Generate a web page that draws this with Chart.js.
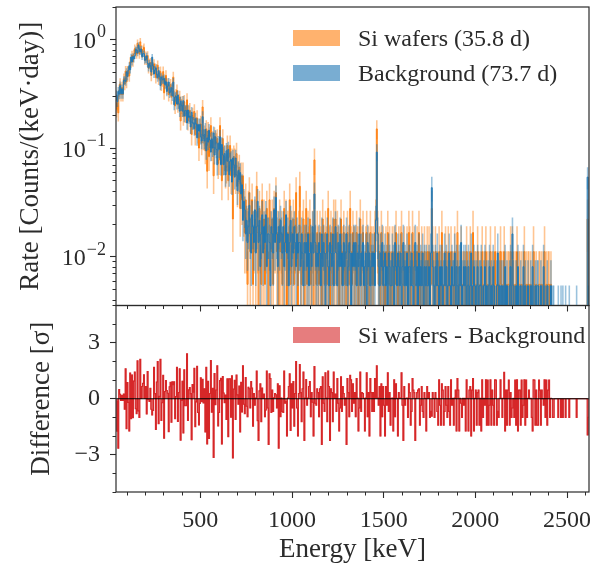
<!DOCTYPE html>
<html>
<head>
<meta charset="utf-8">
<script src="https://cdn.jsdelivr.net/npm/chart.js@4.4.0/dist/chart.umd.min.js"></script>
<style>
  html, body { margin: 0; padding: 0; background: #fff; }
  #wrap { position: relative; width: 590px; height: 569px; }
  #wrap canvas { position: absolute; left: 0; top: 0; }
</style>
</head>
<body>
<div id="wrap">
  <canvas id="diffChart" width="590" height="569"></canvas>
  <canvas id="rateChart" width="590" height="569"></canvas>
</div>
<script>
const FONT = "'Liberation Serif', 'Times New Roman', serif";
const INK = "#2b2b2b";

// binning (keV) and live times (days)
const binStart = 40;
const binWidth = 5;
const siDays = 35.8;
const bgDays = 73.7;
const siLabel = "Si wafers (35.8 d)";
const bgLabel = "Background (73.7 d)";
const diffLabel = "Si wafers - Background";

// counts per 5 keV bin, 40 - 2620 keV (one row = 100 keV)
const siCounts = [
  41, 47, 38, 61, 70, 56, 65, 56, 78, 70, 92, 73, 92, 91, 83, 112, 110, 129, 112, 132,
  148, 138, 132, 166, 150, 132, 171, 147, 134, 145, 152, 116, 127, 116, 128, 98, 107, 110, 84, 112,
  95, 107, 98, 80, 96, 104, 78, 84, 91, 69, 75, 91, 58, 73, 84, 64, 70, 56, 64, 69,
  53, 63, 81, 53, 44, 55, 61, 45, 49, 53, 32, 44, 47, 35, 48, 37, 37, 50, 32, 38,
  40, 30, 24, 36, 33, 39, 24, 29, 34, 25, 18, 28, 30, 20, 43, 22, 24, 17, 27, 11,
  26, 15, 23, 29, 18, 21, 10, 23, 21, 20, 22, 13, 14, 29, 18, 9, 22, 14, 15, 11,
  12, 19, 9, 15, 19, 10, 14, 4, 15, 14, 10, 16, 8, 10, 12, 5, 10, 6, 10, 5,
  3, 6, 3, 1, 5, 7, 2, 4, 6, 1, 3, 4, 2, 8, 3, 0, 5, 3, 1, 6,
  2, 4, 1, 3, 5, 2, 0, 6, 3, 2, 4, 1, 5, 3, 7, 2, 3, 0, 4, 2,
  3, 1, 2, 5, 2, 4, 0, 3, 2, 6, 1, 3, 2, 4, 1, 3, 7, 2, 0, 3,
  8, 2, 1, 3, 4, 0, 2, 5, 1, 3, 2, 4, 1, 2, 3, 0, 14, 2, 1, 3,
  2, 1, 3, 2, 0, 4, 2, 1, 3, 2, 1, 5, 2, 0, 3, 2, 1, 4, 2, 4,
  1, 3, 2, 0, 2, 4, 1, 2, 3, 1, 2, 0, 3, 2, 1, 5, 2, 1, 3, 2,
  2, 1, 3, 2, 0, 2, 4, 1, 2, 3, 1, 0, 2, 3, 1, 2, 0, 3, 2, 1,
  2, 1, 3, 4, 27, 3, 1, 2, 0, 3, 1, 2, 1, 0, 2, 1, 3, 1, 2, 0,
  1, 2, 0, 2, 1, 3, 1, 0, 2, 1, 2, 3, 1, 0, 2, 1, 1, 2, 0, 3,
  2, 0, 1, 3, 1, 2, 0, 1, 2, 1, 3, 0, 1, 2, 1, 0, 2, 1, 0, 2,
  1, 2, 0, 1, 5, 2, 1, 0, 2, 1, 1, 0, 2, 1, 0, 3, 1, 0, 1, 2,
  1, 0, 2, 1, 0, 2, 1, 1, 0, 2, 1, 0, 3, 1, 0, 1, 2, 0, 1, 1,
  1, 0, 2, 1, 0, 1, 2, 0, 1, 3, 0, 1, 1, 0, 2, 1, 0, 1, 0, 2,
  0, 1, 1, 2, 0, 1, 0, 1, 2, 0, 1, 1, 0, 2, 1, 0, 1, 0, 1, 2,
  1, 0, 1, 2, 0, 1, 0, 1, 1, 0, 2, 0, 2, 1, 0, 1, 0, 2, 0, 1,
  1, 0, 1, 0, 1, 2, 0, 1, 0, 1, 1, 0, 1, 0, 0, 2, 1, 0, 1, 0,
  0, 1, 1, 0, 1, 0, 1, 2, 0, 1, 0, 1, 1, 0, 1, 0, 0, 0, 0, 0,
  0, 0, 0, 0, 0, 0, 0, 0, 0, 0, 0, 0, 0, 0, 0, 0, 0, 0, 0, 0,
  0, 0, 0, 0, 0, 0, 0, 0, 0, 0, 0, 0, 0, 0, 4, 0
];

const bgCounts = [
  114, 99, 123, 116, 139, 117, 130, 117, 155, 156, 152, 186, 169, 192, 212, 195, 255, 230, 258, 245,
  262, 300, 295, 278, 329, 301, 285, 302, 257, 274, 274, 238, 243, 261, 223, 203, 224, 212, 186, 254,
  211, 178, 195, 203, 176, 165, 191, 170, 139, 167, 159, 158, 162, 142, 151, 123, 138, 150, 119, 124,
  133, 112, 150, 93, 109, 111, 94, 114, 95, 81, 100, 92, 81, 101, 73, 82, 82, 63, 83, 71,
  73, 58, 79, 63, 63, 56, 69, 62, 46, 61, 53, 61, 47, 43, 72, 48, 43, 55, 35, 46,
  42, 54, 44, 34, 45, 37, 51, 32, 47, 36, 26, 41, 36, 47, 26, 40, 32, 26, 33, 21,
  35, 28, 36, 21, 28, 29, 18, 30, 26, 20, 30, 21, 15, 23, 19, 22, 14, 17, 8, 12,
  10, 6, 8, 5, 7, 11, 6, 4, 9, 7, 5, 10, 4, 7, 12, 5, 8, 3, 6, 9,
  4, 7, 5, 9, 3, 6, 6, 5, 2, 7, 6, 4, 10, 5, 13, 6, 3, 7, 5, 8,
  6, 4, 7, 3, 5, 9, 4, 6, 2, 5, 8, 3, 6, 4, 7, 5, 3, 6, 4, 5,
  5, 3, 6, 4, 2, 5, 4, 5, 3, 6, 2, 4, 5, 3, 7, 4, 14, 5, 3, 4,
  3, 5, 4, 2, 6, 3, 5, 4, 1, 4, 6, 3, 2, 5, 4, 3, 6, 2, 4, 7,
  4, 2, 5, 3, 6, 3, 4, 2, 5, 3, 4, 6, 2, 3, 5, 4, 1, 4, 3, 5,
  3, 5, 2, 4, 3, 6, 2, 4, 3, 5, 2, 3, 4, 1, 5, 3, 4, 2, 3, 4,
  3, 4, 2, 8, 34, 6, 3, 2, 4, 3, 5, 2, 3, 4, 2, 3, 1, 4, 3, 2,
  2, 4, 3, 1, 5, 3, 2, 4, 3, 2, 4, 1, 3, 5, 2, 3, 2, 4, 1, 3,
  3, 2, 4, 2, 1, 3, 5, 2, 3, 1, 4, 2, 3, 2, 4, 1, 3, 2, 3, 2,
  2, 3, 1, 4, 16, 3, 2, 1, 3, 2, 4, 2, 1, 3, 2, 3, 1, 2, 4, 2,
  3, 1, 2, 4, 2, 1, 3, 2, 2, 4, 1, 3, 2, 1, 3, 2, 5, 1, 2, 3,
  2, 3, 1, 2, 3, 1, 2, 4, 1, 2, 3, 2, 1, 2, 3, 1, 2, 2, 3, 1,
  1, 2, 3, 1, 2, 0, 2, 3, 1, 2, 1, 3, 2, 1, 0, 2, 4, 1, 2, 1,
  2, 1, 2, 0, 3, 1, 2, 1, 0, 2, 3, 1, 6, 2, 1, 0, 2, 1, 3, 1,
  1, 2, 0, 1, 3, 1, 2, 0, 1, 2, 1, 0, 2, 1, 3, 1, 0, 2, 1, 2,
  2, 0, 1, 2, 1, 0, 3, 1, 1, 0, 2, 1, 0, 1, 2, 0, 1, 1, 0, 0,
  0, 0, 1, 0, 0, 1, 0, 1, 0, 0, 1, 0, 0, 0, 1, 0, 0, 0, 0, 0,
  0, 0, 1, 0, 0, 0, 0, 0, 0, 0, 0, 0, 0, 0, 20, 1
];

// ticks
const energyMajor = [500, 1000, 1500, 2000, 2500];
const energyMinor = [100, 200, 300, 400, 600, 700, 800, 900, 1100, 1200, 1300, 1400,
  1600, 1700, 1800, 1900, 2100, 2200, 2300, 2400, 2600];
const rateMajor = [0.01, 0.1, 1];
const rateMajorExp = ["\u22122", "\u22121", "0"];
const rateMinor = [0.004, 0.005, 0.006, 0.007, 0.008, 0.009, 0.02, 0.03, 0.04, 0.05,
  0.06, 0.07, 0.08, 0.09, 0.2, 0.3, 0.4, 0.5, 0.6, 0.7, 0.8, 0.9, 2];
const diffMajor = [-3, 0, 3];
const diffMinor = [-5, -4, -2, -1, 1, 2, 4, 5];

Chart.defaults.font.family = FONT;
Chart.defaults.color = INK;

const FLOOR = 1e-5;
const centers = siCounts.map((_, i) => binStart + binWidth * (i + 0.5));
const toRate = (n, days) => n / (days * binWidth);
const toErr = (n, days) => Math.sqrt(n) / (days * binWidth);

function bandData(counts, days) {
  return counts.map((n, i) => {
    if (n === 0) return { x: centers[i], y: null };
    const r = toRate(n, days), e = toErr(n, days);
    return { x: centers[i], y: [Math.max(r - e, FLOOR), r + e] };
  });
}
function stepData(counts, days) {
  return counts.map((n, i) => ({ x: centers[i], y: n > 0 ? toRate(n, days) : FLOOR }));
}

// significance of the difference per bin
const diffValues = siCounts.map((s, i) => {
  const b = bgCounts[i];
  if (s === 0 && b === 0) return null;
  const es = toErr(s, siDays), eb = toErr(b, bgDays);
  return (toRate(s, siDays) - toRate(b, bgDays)) / Math.sqrt(es * es + eb * eb);
});

const setTicks = (values) => (scale) => { scale.ticks = values.map(v => ({ value: v })); };
const fixWidth = (w) => (scale) => {
  scale.width = w;
  scale.paddingTop = 0;
  scale.paddingBottom = 0;
};
const fixHeight = (h) => (scale) => {
  scale.height = h;
  scale.paddingLeft = 0;
  scale.paddingRight = 0;
};

function tickAxis(extra) {
  return Object.assign({
    grid: { drawOnChartArea: false, color: INK, tickLength: 6, tickWidth: 1.1, offset: false },
    border: { display: false },
    ticks: { display: false }
  }, extra);
}

const framePlugin = {
  id: 'frame',
  afterDatasetsDraw(chart) {
    const { ctx, chartArea: a } = chart;
    ctx.save();
    ctx.strokeStyle = INK;
    ctx.lineWidth = 1.2;
    ctx.strokeRect(a.left, a.top, a.right - a.left, a.bottom - a.top);
    ctx.restore();
  }
};

const boxLegend = {
  id: 'boxLegend',
  afterDraw(chart, args, opts) {
    const ctx = chart.ctx;
    const items = chart.data.datasets.filter(d => d.legendColor);
    ctx.save();
    ctx.font = "24px " + FONT;
    ctx.textBaseline = 'middle';
    items.forEach((d, i) => {
      const y = opts.top + i * opts.gap;
      ctx.fillStyle = d.legendColor;
      ctx.fillRect(opts.left, y, 47, 16);
      ctx.fillStyle = INK;
      ctx.fillText(d.label, opts.textX, y + 10);
    });
    ctx.restore();
  }
};

// 10^n labels for the log axis
const powerLabels = {
  id: 'powerLabels',
  afterDraw(chart) {
    const scale = chart.scales.y;
    const ctx = chart.ctx;
    ctx.save();
    ctx.fillStyle = INK;
    ctx.textBaseline = 'middle';
    rateMajor.forEach((v, i) => {
      const y = scale.getPixelForValue(v);
      const exp = rateMajorExp[i];
      ctx.font = "18px " + FONT;
      const we = ctx.measureText(exp).width;
      ctx.font = "24px " + FONT;
      const wb = ctx.measureText("10").width;
      const right = 106;
      ctx.fillText("10", right - we - wb - 1, y + 2);
      ctx.font = "18px " + FONT;
      ctx.fillText(exp, right - we, y - 7);
    });
    ctx.restore();
  }
};

new Chart(document.getElementById('rateChart'), {
  type: 'bar',
  data: {
    datasets: [
      { type: 'bar', label: siLabel, data: bandData(siCounts, siDays),
        backgroundColor: 'rgba(255,127,14,0.45)', legendColor: 'rgba(255,127,14,0.6)',
        grouped: false, barPercentage: 1, categoryPercentage: 1, order: 3 },
      { type: 'line', data: stepData(siCounts, siDays), borderColor: '#ff7f0e',
        borderWidth: 1, pointRadius: 0, stepped: 'middle', order: 2 },
      { type: 'bar', label: bgLabel, data: bandData(bgCounts, bgDays),
        backgroundColor: 'rgba(31,119,180,0.45)', legendColor: 'rgba(31,119,180,0.6)',
        grouped: false, barPercentage: 1, categoryPercentage: 1, order: 1 },
      { type: 'line', data: stepData(bgCounts, bgDays), borderColor: '#1f77b4',
        borderWidth: 1, pointRadius: 0, stepped: 'middle', order: 0 }
    ]
  },
  options: {
    responsive: false,
    animation: false,
    events: [],
    layout: { padding: { left: 0, top: 7, right: 1, bottom: 569 - 305.5 - 10 } },
    plugins: {
      legend: { display: false },
      tooltip: { enabled: false },
      boxLegend: { left: 293, top: 30, gap: 35, textX: 358 }
    },
    scales: {
      x: tickAxis({ type: 'linear', min: 40, max: 2620, offset: false,
        afterBuildTicks: setTicks(energyMajor), afterFit: fixHeight(10) }),
      xMinor: tickAxis({ type: 'linear', axis: 'x', position: 'bottom', min: 40, max: 2620,
        offset: false, weight: -1,
        grid: { drawOnChartArea: false, color: INK, tickLength: 3.5, tickWidth: 1, offset: false },
        afterBuildTicks: setTicks(energyMinor), afterFit: fixHeight(0) }),
      y: tickAxis({ type: 'logarithmic', min: 0.00357, max: 2,
        afterBuildTicks: setTicks(rateMajor), afterFit: fixWidth(116),
        title: { display: true, text: 'Rate [Counts/(keV\u00b7day)]', color: INK,
          font: { size: 27 }, padding: { top: 14.8, bottom: 0 } } }),
      yMinor: tickAxis({ type: 'logarithmic', axis: 'y', position: 'left', min: 0.00357, max: 2,
        weight: -1,
        grid: { drawOnChartArea: false, color: INK, tickLength: 3.5, tickWidth: 1 },
        afterBuildTicks: setTicks(rateMinor), afterFit: fixWidth(0) })
    }
  },
  plugins: [framePlugin, boxLegend, powerLabels]
});

new Chart(document.getElementById('diffChart'), {
  type: 'bar',
  data: {
    datasets: [
      { type: 'line', data: [{ x: 40, y: 0 }, { x: 2620, y: 0 }], borderColor: '#000',
        borderWidth: 1.2, pointRadius: 0, order: 0 },
      { type: 'line', data: diffValues.map((d, i) => ({ x: centers[i], y: d === null ? 0 : d })),
        borderColor: '#d62728', borderWidth: 1.1, pointRadius: 0, stepped: 'middle', order: 1 },
      { type: 'bar', label: diffLabel, data: diffValues.map((d, i) => ({ x: centers[i], y: d })),
        backgroundColor: 'rgba(214,39,40,0.6)', legendColor: 'rgba(214,39,40,0.6)',
        grouped: false, barPercentage: 1, categoryPercentage: 1, order: 2 }
    ]
  },
  options: {
    responsive: false,
    animation: false,
    events: [],
    layout: { padding: { left: 0, top: 305.5, right: 1, bottom: 0 } },
    plugins: {
      legend: { display: false },
      tooltip: { enabled: false },
      boxLegend: { left: 293, top: 327, gap: 35, textX: 358 }
    },
    scales: {
      x: tickAxis({ type: 'linear', min: 40, max: 2620, offset: false,
        ticks: { display: true, font: { size: 24 }, padding: 8.6, maxRotation: 0,
          autoSkip: false, color: INK, callback: v => String(v) },
        afterBuildTicks: setTicks(energyMajor), afterFit: fixHeight(77),
        title: { display: true, text: 'Energy [keV]', color: INK, font: { size: 27 },
          padding: { top: 0, bottom: 2.8 } } }),
      xMinor: tickAxis({ type: 'linear', axis: 'x', position: 'bottom', min: 40, max: 2620,
        offset: false, weight: -1,
        grid: { drawOnChartArea: false, color: INK, tickLength: 3.5, tickWidth: 1, offset: false },
        afterBuildTicks: setTicks(energyMinor), afterFit: fixHeight(0) }),
      y: tickAxis({ type: 'linear', min: -5, max: 5,
        ticks: { display: true, font: { size: 24 }, padding: 10, color: INK,
          callback: v => (v < 0 ? '\u2212' + Math.abs(v) : String(v)) },
        afterBuildTicks: setTicks(diffMajor), afterFit: fixWidth(116),
        title: { display: true, text: 'Difference [\u03c3]', color: INK, font: { size: 27 },
          padding: { top: 25.8, bottom: 0 } } }),
      yMinor: tickAxis({ type: 'linear', axis: 'y', position: 'left', min: -5, max: 5, weight: -1,
        grid: { drawOnChartArea: false, color: INK, tickLength: 3.5, tickWidth: 1 },
        afterBuildTicks: setTicks(diffMinor), afterFit: fixWidth(0) })
    }
  },
  plugins: [framePlugin, boxLegend]
});
</script>
</body>
</html>
